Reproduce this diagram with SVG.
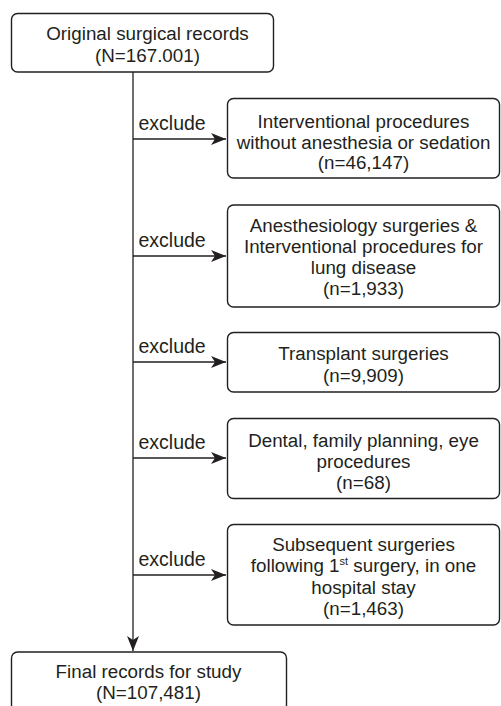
<svg xmlns="http://www.w3.org/2000/svg" width="501" height="706" viewBox="0 0 501 706">
<style>
.box{fill:#fff;stroke:#231f20;stroke-width:1.4}
.t{font-family:"Liberation Sans",Arial,sans-serif;font-size:18.8px;fill:#231f20;text-anchor:middle}
.lbl{font-family:"Liberation Sans",Arial,sans-serif;font-size:19.5px;fill:#231f20}
.ln{stroke:#231f20;stroke-width:1.3;fill:none}
</style>
<defs>
<marker id="ah" markerUnits="userSpaceOnUse" markerWidth="16" markerHeight="14" viewBox="-16 -7 16 14" refX="0" refY="0" orient="auto">
<path d="M0,0 L-15,-6 L-11,0 L-15,6 Z" fill="#231f20"/>
</marker>
</defs>
<rect width="501" height="706" fill="#fff"/>
<g id="connectors">
<line class="ln" x1="133" y1="72" x2="133" y2="651" marker-end="url(#ah)"/>
<line class="ln" x1="133" y1="139" x2="226" y2="139" marker-end="url(#ah)"/>
<line class="ln" x1="133" y1="256" x2="226" y2="256" marker-end="url(#ah)"/>
<line class="ln" x1="133" y1="362" x2="226" y2="362" marker-end="url(#ah)"/>
<line class="ln" x1="133" y1="458" x2="226" y2="458" marker-end="url(#ah)"/>
<line class="ln" x1="133" y1="575" x2="226" y2="575" marker-end="url(#ah)"/>
<text class="lbl" x="138.5" y="130">exclude</text>
<text class="lbl" x="138.5" y="247">exclude</text>
<text class="lbl" x="138.5" y="353">exclude</text>
<text class="lbl" x="138.5" y="449">exclude</text>
<text class="lbl" x="138.5" y="566">exclude</text>
</g>
<g id="n0">
<rect class="box" x="11.5" y="13.5" width="262" height="58.5" rx="6"/>
<text class="t" x="147.5" y="40">Original surgical records</text>
<text class="t" x="147.5" y="62">(N=167.001)</text>
</g>
<g id="n1">
<rect class="box" x="227.5" y="98.5" width="272" height="79.5" rx="6"/>
<text class="t" x="363.5" y="128">Interventional procedures</text>
<text class="t" x="363.5" y="148.5">without anesthesia or sedation</text>
<text class="t" x="363.5" y="168.5">(n=46,147)</text>
</g>
<g id="n2">
<rect class="box" x="227.5" y="205" width="272" height="102" rx="6"/>
<text class="t" x="363.5" y="232">Anesthesiology surgeries &amp;</text>
<text class="t" x="363.5" y="253">Interventional procedures for</text>
<text class="t" x="363.5" y="274">lung disease</text>
<text class="t" x="363.5" y="295">(n=1,933)</text>
</g>
<g id="n3">
<rect class="box" x="227.5" y="332.5" width="272" height="59.5" rx="6"/>
<text class="t" x="363.5" y="360">Transplant surgeries</text>
<text class="t" x="363.5" y="381.5">(n=9,909)</text>
</g>
<g id="n4">
<rect class="box" x="227.5" y="418.5" width="272" height="80" rx="6"/>
<text class="t" x="363.5" y="446.5">Dental, family planning, eye</text>
<text class="t" x="363.5" y="467.5">procedures</text>
<text class="t" x="363.5" y="488.5">(n=68)</text>
</g>
<g id="n5">
<rect class="box" x="227.5" y="524.5" width="272" height="100.5" rx="6"/>
<text class="t" x="363.5" y="550.5">Subsequent surgeries</text>
<text class="t" x="363.5" y="572">following 1<tspan font-size="11" dy="-7">st</tspan><tspan dy="7"> surgery, in one</tspan></text>
<text class="t" x="363.5" y="593.5">hospital stay</text>
<text class="t" x="363.5" y="615">(n=1,463)</text>
</g>
<g id="n6">
<rect class="box" x="11.5" y="652" width="275" height="70" rx="6"/>
<text class="t" x="148.5" y="678">Final records for study</text>
<text class="t" x="148.5" y="698.5">(N=107,481)</text>
</g>
</svg>
